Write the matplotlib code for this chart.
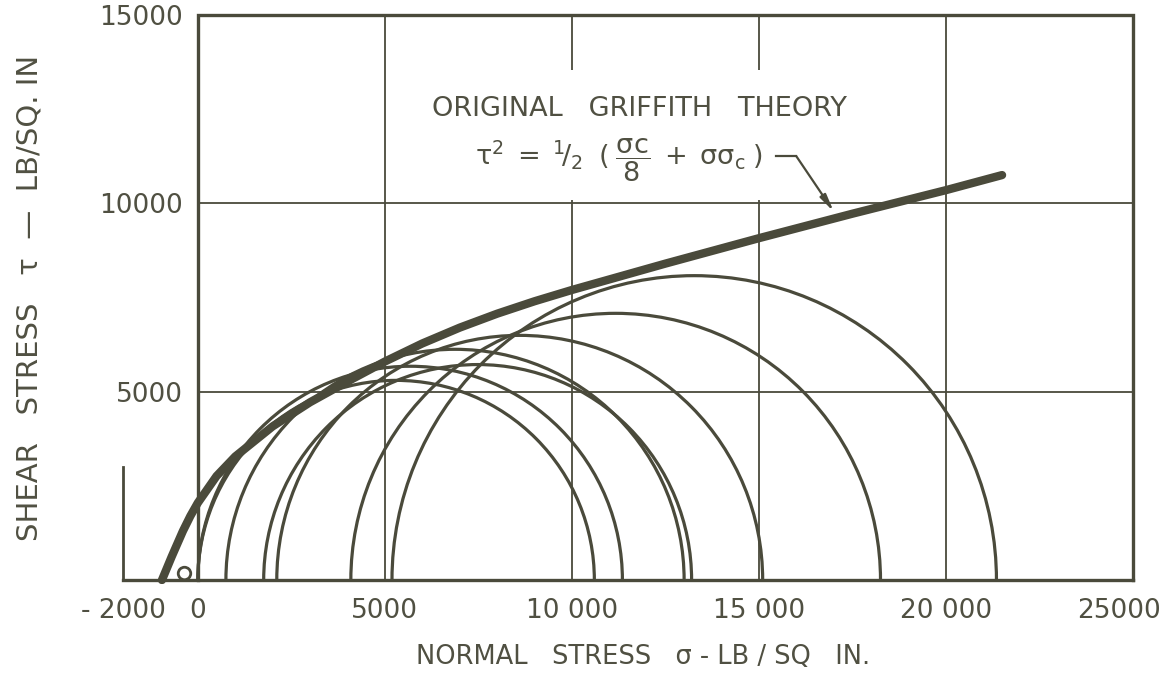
import matplotlib
matplotlib.use("Agg")
import matplotlib.pyplot as plt
import matplotlib.transforms as mtransforms
from matplotlib.patches import Arc, Rectangle

# ---- data ----
# Mohr circles: minor / major principal stresses (lb/sq in)
circle_sigma3 = [0, 0, 750, 1760, 2110, 4090, 5190]
circle_sigma1 = [10600, 11350, 13000, 13200, 15100, 18250, 21350]

env_sigma = [-960, -700, -400, -200, 0, 500, 1000, 2000, 3000,
             4000, 5000, 6000, 7000, 8000, 9000, 10000, 12500, 15000,
             17500, 20000, 21500]
env_tau = [0, 620, 1300, 1700, 2050, 2760, 3280, 4080, 4720,
           5270, 5800, 6280, 6700, 7070, 7400, 7700, 8400, 9075,
           9725, 10350, 10750]

# small tensile point
tensile_sigma = [-380]
tensile_tau = [200]

x_ticks = [-2000, 0, 5000, 10000, 15000, 20000, 25000]
x_labels = ["- 2000", "0", "5000", "10 000", "15 000", "20 000", "25000"]
y_ticks = [5000, 10000, 15000]
y_labels = ["5000", "10000", "15000"]
grid_x = [5000, 10000, 15000, 20000]
grid_y = [5000, 10000]

INK = "#4a4a3b"
TXT = "#505042"

plt.rcParams["font.family"] = ["DejaVu Sans"]
plt.rcParams["mathtext.fontset"] = "dejavusans"

fig = plt.figure(figsize=(11.72, 6.75), dpi=100)
ax = fig.add_axes([0.1018, 0.1351, 0.8681, 0.8483])
ax.set_xlim(-2100, 25100)
ax.set_ylim(-100, 15100)
for s in ax.spines.values():
    s.set_visible(False)

# grid
ax.vlines(grid_x, 0, 15000, color=INK, lw=1.3, zorder=1)
ax.hlines(grid_y, 0, 25000, color=INK, lw=1.3, zorder=1)

# frame
ax.plot([0, 0, 25000, 25000], [0, 15000, 15000, 0], color=INK, lw=2.4,
        zorder=3, solid_joinstyle="miter")
ax.plot([-2000, 25000], [0, 0], color=INK, lw=2.4, zorder=3)
ax.plot([-2000, -2000], [0, 3000], color=INK, lw=2.0, zorder=3)

# white patch behind the annotation text (breaks the grid lines)
ax.add_patch(Rectangle((8600, 10100), 10400, 3450, facecolor="white",
                       edgecolor="none", zorder=2))

# Mohr circles
for s3, s1 in zip(circle_sigma3, circle_sigma1):
    c = (s3 + s1) / 2.0
    d = s1 - s3
    ax.add_patch(Arc((c, 0), d, d, theta1=0, theta2=180, color=INK,
                     lw=2.3, zorder=4))

# envelope
ax.plot(env_sigma, env_tau, color=INK, lw=6.0, solid_capstyle="round",
        solid_joinstyle="round", zorder=5)

# tensile point
ax.plot(tensile_sigma, tensile_tau, "o", mfc="white", mec=INK, mew=2.0,
        ms=9, zorder=5)

# annotation
ax.text(11820, 12500, "ORIGINAL   GRIFFITH   THEORY", ha="center",
        va="center", fontsize=19.5, color=TXT, zorder=6)
ax.text(11250, 11150,
        r"$\mathrm{\tau}^{2}\;=\;{}^{1}\!/_{2}\;\;(\;\dfrac{\mathrm{\sigma c}}{8}"
        r"\;+\;\mathrm{\sigma\sigma}_{\mathrm{c}}\;)$",
        ha="center", va="center", fontsize=19.5, color=TXT, zorder=6)
ax.plot([15450, 16000], [11250, 11250], color=INK, lw=1.6, zorder=6)
ax.annotate("", xy=(17000, 9780), xytext=(16000, 11250),
            arrowprops=dict(arrowstyle="-|>,head_length=1.0,head_width=0.2",
                            color=INK, lw=1.6, shrinkA=0, shrinkB=0),
            zorder=6)

# ticks
ax.set_xticks(x_ticks)
ax.set_xticklabels(x_labels)
ax.set_yticks(y_ticks)
ax.set_yticklabels(y_labels)
ax.tick_params(axis="x", length=0, pad=10, labelsize=19, labelcolor=TXT)
ax.tick_params(axis="y", length=0, pad=-46, labelsize=19, labelcolor=TXT)
last = ax.get_xticklabels()[-1]
last.set_transform(last.get_transform() +
                   mtransforms.ScaledTranslation(-14 / 100, 0,
                                                 fig.dpi_scale_trans))

fig.text(643 / 1172, 1 - 657 / 675, "NORMAL   STRESS   σ - LB / SQ   IN.",
         ha="center", va="center", fontsize=18.5, color=TXT)
fig.text(30 / 1172, 1 - 298 / 675, "SHEAR   STRESS   τ  —  LB/SQ. IN",
         ha="center", va="center", rotation=90, fontsize=21, color=TXT)

fig.savefig("out.png", dpi=100, facecolor="white")
